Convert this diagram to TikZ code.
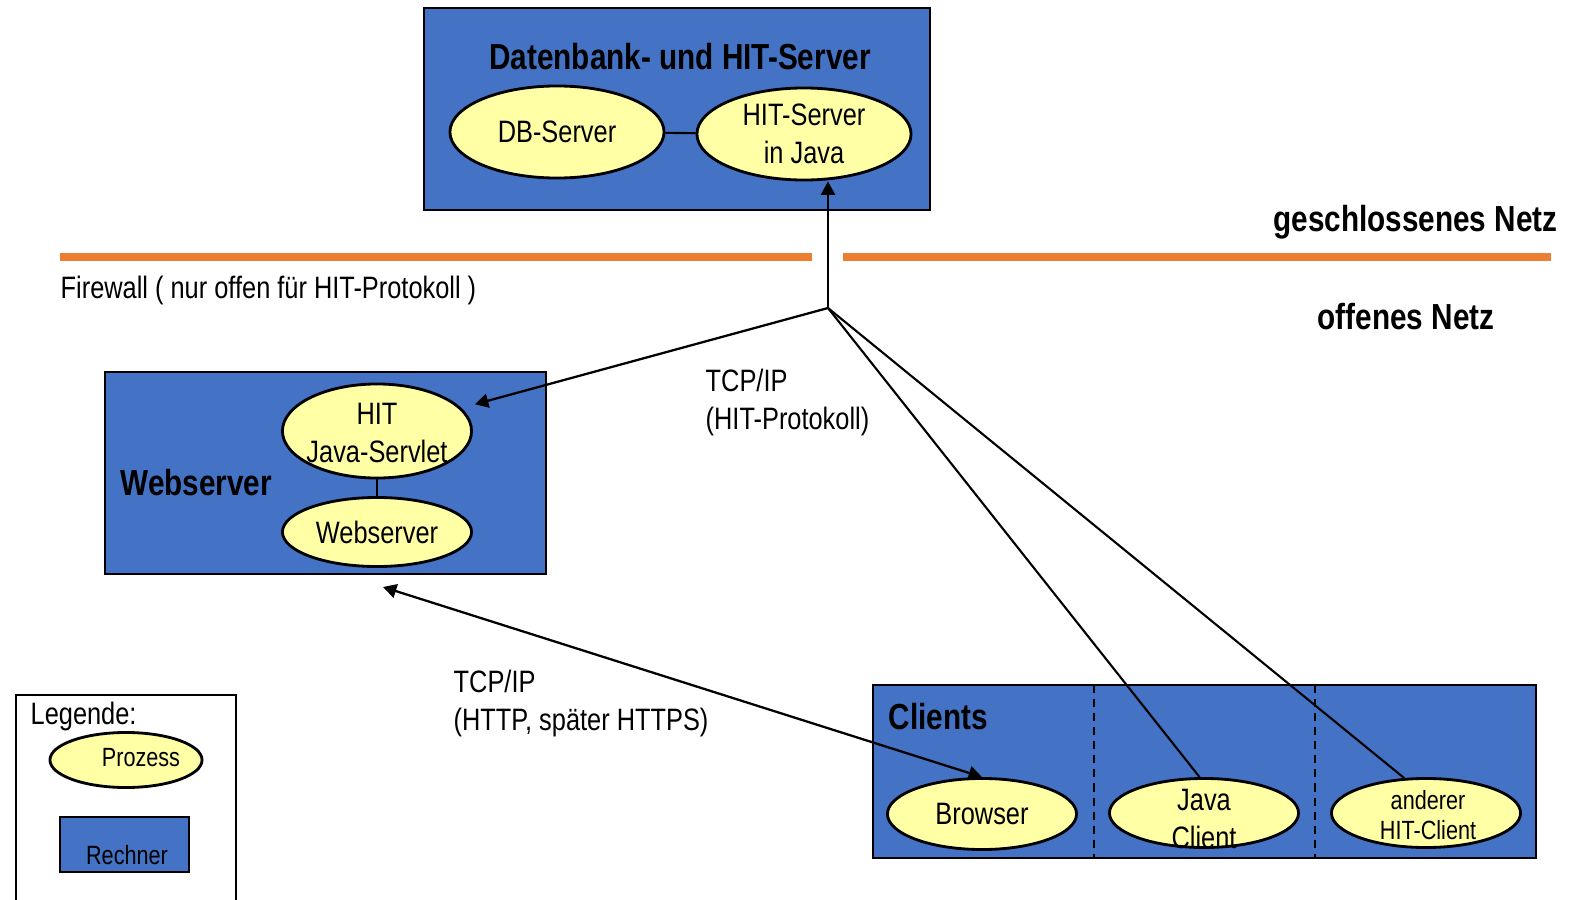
\documentclass[tikz,border=0pt]{standalone}
\usepackage{fontspec}
\setmainfont{Liberation Sans}[FakeStretch=0.82]
\usetikzlibrary{shapes.geometric, arrows.meta}
\definecolor{rechnerblau}{RGB}{68,114,196}
\definecolor{prozessgelb}{RGB}{255,255,165}
\definecolor{fworange}{RGB}{237,125,49}
\tikzset{
  proc/.style={draw, ellipse, fill=prozessgelb, line width=0.8pt, inner sep=0pt},
  rechner/.style={draw, rectangle, fill=rechnerblau, line width=0.7pt, inner sep=0pt},
  txt/.style={inner sep=0pt, align=center, font=\fontsize{8.8}{10.8}\selectfont},
  klein/.style={font=\fontsize{7.5}{8.6}\selectfont},
  titel/.style={inner sep=0pt, font=\fontsize{10.3}{12}\selectfont\bfseries},
  spitze/.tip={Triangle[length=3.8pt, width=4pt]},
  pfeil/.style={-spitze, line width=0.65pt},
  verb/.style={line width=0.6pt}
}
\begin{document}
\begin{tikzpicture}[x=0.01cm, y=-0.01cm]
\useasboundingbox (0,0) rectangle (1590,900);
% Datenbank- und HIT-Server
\node[rechner, minimum width=5.06cm, minimum height=2.02cm] (dbbox) at (677,109) {};
\node[titel] (dbtitel) at (680,57) {Datenbank- und HIT-Server};
\node[proc, minimum width=2.14cm, minimum height=0.92cm] (db) at (557,132) {};
\node[txt] (dbtxt) at (db) {DB-Server};
\node[proc, minimum width=2.14cm, minimum height=0.92cm] (hit) at (804,134) {};
\node[txt] (hittxt) at (hit) {HIT-Server\\in Java};
\draw[verb] (db)--(hit);
% Firewall
\draw[fworange, line width=2.3pt] (60,257)--(812,257);
\draw[fworange, line width=2.3pt] (843,257)--(1551,257);
\node[txt, anchor=west] (fw) at (60,290) {Firewall ( nur offen f\"ur HIT-Protokoll )};
\node[titel, anchor=east] (geschl) at (1558,222) {geschlossenes Netz};
\node[titel] (offen) at (1406,317) {offenes Netz};
% Webserver
\node[rechner, minimum width=4.41cm, minimum height=2.02cm] (wsbox) at (325.5,473) {};
\node[titel, anchor=west] (wstitel) at (120,483) {Webserver};
\node[proc, minimum width=1.89cm, minimum height=0.94cm] (servlet) at (377,431) {};
\node[txt] (servlettxt) at (377,433) {HIT\\Java-Servlet};
\node[proc, minimum width=1.89cm, minimum height=0.69cm] (web) at (377,532) {};
\node[txt] (webtxt) at (web) {Webserver};
\draw[verb] (servlet)--(web);
% Clients
\node[rechner, minimum width=6.63cm, minimum height=1.73cm] (clbox) at (1204.5,771.5) {};
\draw[dashed, dash pattern=on 2.3pt off 1.7pt, line width=0.6pt] (1094,685)--(1094,858);
\draw[dashed, dash pattern=on 2.3pt off 1.7pt, line width=0.6pt] (1315,685)--(1315,858);
\node[titel, anchor=west] (cltitel) at (888,717) {Clients};
\node[proc, minimum width=1.89cm, minimum height=0.71cm] (browser) at (982,814) {};
\node[txt] (browsertxt) at (browser) {Browser};
\node[proc, minimum width=1.89cm, minimum height=0.69cm] (javacl) at (1204,813) {};
\node[txt] (javacltxt) at (1204,819) {Java\\Client};
\node[proc, minimum width=1.89cm, minimum height=0.69cm] (anderer) at (1426,813) {};
\node[txt, klein] (anderertxt) at (1428,815) {anderer\\HIT-Client};
% Legende
\draw[line width=0.6pt] (16,695) rectangle (236,920);
\node[txt, anchor=west] (leg) at (30,716) {Legende:};
\node[proc, minimum width=1.52cm, minimum height=0.55cm] (legproc) at (126,760) {};
\node[txt, klein] (legproctxt) at (141,758) {Prozess};
\node[rechner, minimum width=1.29cm, minimum height=0.55cm] (legrech) at (124.5,844.5) {};
\node[txt, klein] (legrechtxt) at (127,855) {Rechner};
% Verbindungen
\coordinate (hub) at (828,308);
\coordinate (wsin) at (383,587);
\draw[pfeil] (hub)--(hub |- hit.south);
\draw[pfeil, shorten >=1.4mm] (hub)--(servlet);
\draw[verb] (hub)--(javacl.97);
\draw[verb] (hub)--(anderer.122);
\draw[pfeil, spitze-spitze] (wsin)--(browser.north);
\node[txt, anchor=north west, align=left] (tcp1) at (705,368) {TCP/IP\\(HIT-Protokoll)};
\node[txt, anchor=north west, align=left] (tcp2) at (453,669) {TCP/IP\\(HTTP, sp\"ater HTTPS)};
\end{tikzpicture}
\end{document}
